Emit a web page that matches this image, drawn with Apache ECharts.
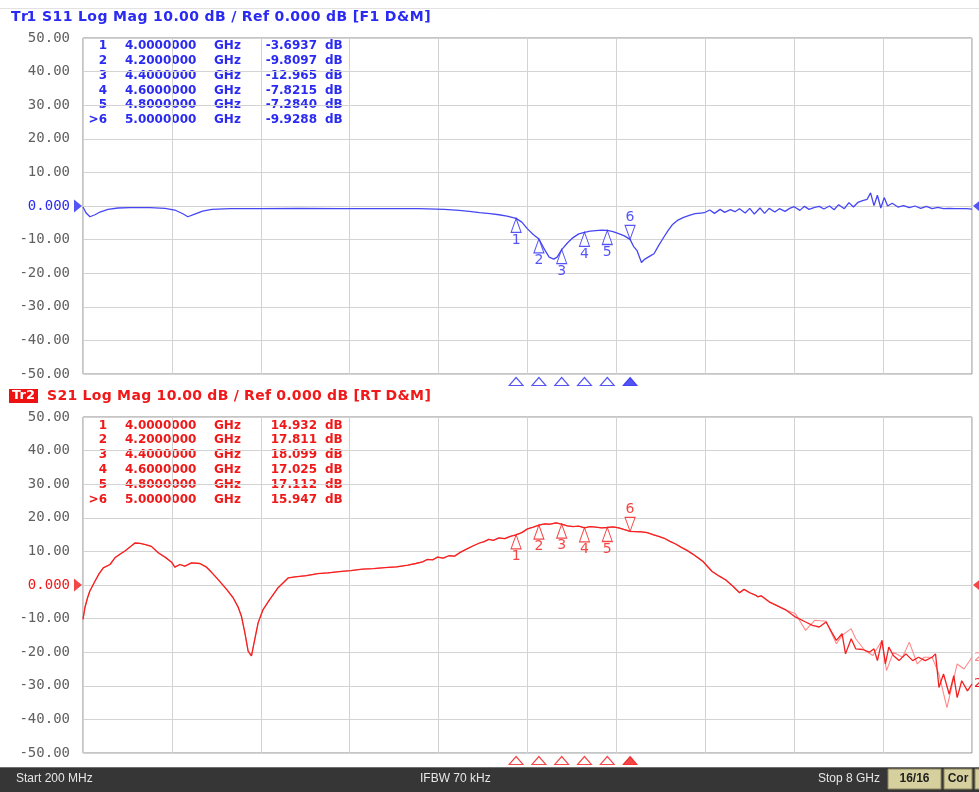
<!DOCTYPE html>
<html>
<head>
<meta charset="utf-8">
<script src="https://cdn.jsdelivr.net/npm/echarts/dist/echarts.min.js"></script>
<style>
  html, body { margin: 0; padding: 0; background: #fff; }
  #chart { width: 979px; height: 792px; }
</style>
</head>
<body>
<div id="chart"></div>
<script>
// ---- sweep & scale ----
const startGHz = 0.2;
const stopGHz = 8;
const dbMin = -50, dbMax = 50, dbStep = 10;

// ---- Tr1: S11 (dB) ----
const s11Freq = [0.2, 0.226, 0.261, 0.305, 0.349, 0.419, 0.507, 0.612, 0.787, 0.919, 1.006, 1.076, 1.12, 1.18, 1.25, 1.33, 1.49, 1.75, 2.1, 2.45, 2.8, 3.15, 3.37, 3.5, 3.59, 3.68, 3.77, 3.85, 3.92,
  4.0, 4.05, 4.1, 4.15, 4.2, 4.25, 4.29, 4.33, 4.36, 4.4, 4.45, 4.5, 4.55, 4.6, 4.65, 4.7, 4.75, 4.8, 4.85, 4.9, 4.95, 5.0,
  5.03, 5.06, 5.1, 5.13, 5.17, 5.21, 5.25, 5.29, 5.33, 5.37, 5.42, 5.47, 5.52, 5.57, 5.62,
  5.65, 5.7, 5.74, 5.79, 5.83, 5.88, 5.92, 5.96, 6.01, 6.05, 6.09, 6.14, 6.18, 6.22, 6.27, 6.31, 6.36, 6.4, 6.44, 6.49, 6.53, 6.57, 6.62, 6.66, 6.7, 6.75, 6.79, 6.83, 6.88, 6.92, 6.96,
  7.0, 7.04, 7.08, 7.11, 7.14, 7.17, 7.2, 7.23, 7.26, 7.3, 7.35, 7.4, 7.45, 7.5, 7.55, 7.6, 7.65, 7.7, 7.75, 7.8, 7.85, 7.9, 7.95, 8.0];
const s11Db = [-0.3, -2.0, -3.2, -2.6, -1.8, -1.0, -0.6, -0.5, -0.5, -0.7, -1.2, -2.3, -3.2, -2.4, -1.5, -1.0, -0.8, -0.8, -0.7, -0.8, -0.8, -0.8, -1.0, -1.3, -1.6, -2.0, -2.3, -2.6, -3.0,
  -3.6937, -4.8, -6.8, -8.5, -9.8097, -13.0, -15.2, -15.8, -15.2, -12.965, -11.0, -9.4, -8.3, -7.8215, -7.5, -7.3, -7.2, -7.284, -7.6, -8.2, -8.9, -9.9288,
  -12.0, -13.2, -16.8, -15.8, -15.0, -14.2, -11.8, -9.6, -7.5, -5.6, -4.2, -3.4, -2.8, -2.3, -2.1,
  -2.0, -1.2, -2.2, -1.0, -1.9, -1.1, -1.7, -0.8, -2.1, -0.7, -2.4, -0.6, -2.2, -0.7, -1.8, -0.8, -1.6, -0.7, -0.2, -1.3, -0.1, -1.0, -0.4, -0.1, -0.9, 0.0, -1.1, 0.4, -0.8, 1.0, -0.3,
  1.1, 1.6, 2.0, 3.9, 0.1, 3.2, -0.6, 2.5, 0.0, 0.8, -0.3, 0.1, -0.5, 0.0, -0.7, -0.1, -0.8, -0.4, -0.8, -0.7, -0.8, -0.8, -0.8, -0.9];

// ---- Tr2: S21 (dB) ----
const s21Freq = [0.2, 0.217, 0.24, 0.26, 0.305, 0.34, 0.378, 0.437, 0.48, 0.53, 0.568, 0.62, 0.656, 0.7, 0.75, 0.8, 0.86, 0.92, 0.977, 1.006, 1.05, 1.094, 1.153, 1.225, 1.284, 1.33, 1.386, 1.46, 1.517, 1.56, 1.59, 1.62, 1.649, 1.678, 1.707, 1.737, 1.78, 1.839, 1.912, 2.0, 2.058, 2.16, 2.262,
  2.35, 2.45, 2.55, 2.65, 2.75, 2.85, 2.95, 3.05, 3.12, 3.18, 3.22, 3.27, 3.31, 3.36, 3.41, 3.46, 3.51, 3.56, 3.62, 3.68, 3.72, 3.76, 3.8, 3.85, 3.9, 3.95,
  4.0, 4.05, 4.1, 4.15, 4.2, 4.25, 4.3, 4.35, 4.4, 4.45, 4.5, 4.55, 4.6, 4.65, 4.7, 4.75, 4.8, 4.85, 4.9, 4.95, 5.0,
  5.05, 5.1, 5.15, 5.2, 5.25, 5.3, 5.35, 5.4, 5.45, 5.5, 5.55, 5.6, 5.64, 5.68, 5.72, 5.78, 5.84, 5.9, 5.96, 6.0, 6.05, 6.1, 6.12, 6.15, 6.22, 6.28, 6.37,
  6.45, 6.54, 6.6, 6.66, 6.72, 6.76, 6.81, 6.86, 6.89, 6.94, 6.98, 7.04, 7.1, 7.14, 7.17, 7.21, 7.24, 7.27, 7.31, 7.36, 7.42, 7.48, 7.53, 7.59, 7.65, 7.68, 7.71, 7.75, 7.8, 7.84, 7.87, 7.91, 7.96, 8.0];
const s21Db = [-10.2, -6.7, -3.8, -1.8, 1.1, 3.3, 5.1, 6.1, 8.1, 9.3, 10.1, 11.5, 12.5, 12.4, 12.0, 11.5, 9.6, 8.3, 6.8, 5.3, 6.1, 5.6, 6.6, 6.4, 5.3, 3.7, 1.6, -1.3, -3.8, -6.5, -9.3, -14.2, -19.7, -21.1, -16.2, -11.2, -7.3, -4.3, -0.8, 2.1, 2.4, 2.8, 3.4,
  3.6, 4.0, 4.3, 4.7, 4.9, 5.2, 5.4, 5.9, 6.4, 6.9, 7.6, 7.5, 8.3, 8.0, 8.7, 8.6, 9.7, 10.6, 11.6, 12.5, 12.9, 13.6, 13.3, 14.0, 13.8, 14.5,
  14.932, 15.6, 16.7, 17.2, 17.811, 18.2, 18.1, 18.5, 18.099, 17.6, 17.4, 17.5, 17.025, 17.4, 17.2, 17.0, 17.112, 17.3, 17.0, 16.5, 15.947,
  15.9, 15.8, 15.6, 15.0, 14.5, 13.9, 13.0, 12.2, 11.2, 10.3, 9.2, 8.0, 7.0, 5.5, 4.0, 2.7, 1.5, -0.3, -2.3, -1.3, -2.3, -3.0, -3.5, -3.2, -5.0, -6.0, -7.5,
  -9.5, -11.0, -12.0, -12.5, -11.0, -13.5, -16.5, -14.5, -20.5, -16.0, -19.0, -19.2, -20.0, -19.0, -22.5, -16.5, -23.5, -18.5, -21.0, -22.5, -20.5, -22.5, -21.5, -22.5, -21.5, -20.5, -30.5, -26.5, -32.5, -27.0, -33.5, -28.5, -31.5, -29.5];

// memory trace of S21: identical up to memSplitGHz, then its own values
const memSplitGHz = 6.4;
const s21MemFreq = [6.45, 6.54, 6.62, 6.72, 6.81, 6.86, 6.94, 6.98, 7.06, 7.13, 7.21, 7.25, 7.31, 7.39, 7.45, 7.52, 7.58, 7.65, 7.71, 7.78, 7.87, 7.93, 8.0];
const s21MemDb = [-8.5, -13.5, -10.5, -10.8, -17.5, -15.0, -13.0, -16.0, -19.5, -21.0, -16.5, -25.5, -20.0, -21.5, -17.0, -23.5, -21.5, -21.5, -26.5, -36.5, -23.5, -25.0, -21.5];

// ---- markers ----
const markerFreq = [4.0, 4.2, 4.4, 4.6, 4.8, 5.0];
const s11MarkerDb = [-3.6937, -9.8097, -12.965, -7.8215, -7.2840, -9.9288];
const s21MarkerDb = [14.932, 17.811, 18.099, 17.025, 17.112, 15.947];
const activeMarker = 5;

// ---- texts ----
const header1 = 'Tr1 S11 Log Mag 10.00 dB / Ref 0.000 dB [F1 D&M]';
const header2Tag = 'Tr2';
const header2 = 'S21 Log Mag 10.00 dB / Ref 0.000 dB [RT D&M]';
const statusTexts = ['Start 200 MHz', 'IFBW 70 kHz', 'Stop 8 GHz'];
const statusBoxes = ['16/16', 'Cor'];

// ---- style ----
const FONT = 'DejaVu Sans';
const MONO = 'DejaVu Sans Mono';
const BLUE = '#2a2af2';
const BLUE_LINE = '#4646f5';
const RED = '#f01818';
const RED_LINE = '#f52020';
const PINK = '#ff8a8a';
const LABEL_GRAY = '#606060';
const GRID_LINE = '#d3d3d3';

const plots = [
  { top: 38, color: BLUE, line: BLUE_LINE },
  { top: 417, color: RED, line: RED_LINE }
];
const plotLeft = 83, plotWidth = 889, plotHeight = 336;

const pairs = (xs, ys) => xs.map((x, i) => [x, ys[i]]);
const s21Mem = pairs(s21Freq, s21Db).filter(p => p[0] <= memSplitGHz).concat(pairs(s21MemFreq, s21MemDb));

const grids = plots.map(p => ({
  left: plotLeft, top: p.top, width: plotWidth, height: plotHeight,
  show: true, backgroundColor: '#fff', borderColor: '#8a8a8a', borderWidth: 1
}));

const xAxes = [];
const yAxes = [];
plots.forEach((p, g) => {
  // frequency axis used by the traces
  xAxes.push({ type: 'value', gridIndex: g, min: startGHz, max: stopGHz, show: false });
  // ten horizontal divisions for the graticule
  xAxes.push({
    type: 'value', gridIndex: g, min: 0, max: 10, interval: 1, position: 'bottom',
    axisLine: { show: false }, axisTick: { show: false }, axisLabel: { show: false },
    splitLine: { show: true, lineStyle: { color: GRID_LINE, width: 1 } }
  });
  yAxes.push({
    type: 'value', gridIndex: g, min: dbMin, max: dbMax, interval: dbStep,
    axisLine: { show: false }, axisTick: { show: false },
    splitLine: { show: true, lineStyle: { color: GRID_LINE, width: 1 } },
    axisLabel: {
      margin: 13, fontFamily: MONO, fontSize: 14,
      formatter: v => (v === 0 ? '0.000' : v.toFixed(2)),
      color: v => (Number(v) === 0 ? p.color : LABEL_GRAY)
    }
  });
});

function traceSeries(g, data, color, extra) {
  return Object.assign({
    type: 'line', xAxisIndex: g * 2, yAxisIndex: g, data: data,
    showSymbol: false, symbol: 'none', smooth: false, animation: false,
    lineStyle: { color: color, width: 1.3 }, z: 3
  }, extra || {});
}

function markerSeries(g, values, color) {
  const up = [], down = [];
  markerFreq.forEach((f, i) => {
    const item = { value: [f, values[i]], name: String(i + 1) };
    (i === activeMarker ? down : up).push(item);
  });
  const labelBase = { show: true, color: color, fontFamily: FONT, fontSize: 14, formatter: d => d.name };
  return [
    {
      type: 'scatter', xAxisIndex: g * 2, yAxisIndex: g, data: up, clip: false, animation: false, z: 5,
      symbol: 'path://M5,0 L10,14 L0,14 Z', symbolSize: [10, 14], symbolOffset: [0, 7],
      itemStyle: { color: 'rgba(255,255,255,0.9)', borderColor: color, borderWidth: 1.1 },
      label: Object.assign({ position: 'bottom', distance: 0 }, labelBase)
    },
    {
      type: 'scatter', xAxisIndex: g * 2, yAxisIndex: g, data: down, clip: false, animation: false, z: 5,
      symbol: 'path://M0,0 L10,0 L5,14 Z', symbolSize: [10, 14], symbolOffset: [0, -7],
      itemStyle: { color: 'rgba(255,255,255,0.9)', borderColor: color, borderWidth: 1.1 },
      label: Object.assign({ position: 'top', distance: 0 }, labelBase)
    },
    // marker positions along the bottom edge of the plot
    {
      type: 'scatter', xAxisIndex: g * 2, yAxisIndex: g, clip: false, animation: false, z: 5,
      data: markerFreq.map((f, i) => ({
        value: [f, dbMin],
        itemStyle: i === activeMarker ? { color: color, borderColor: color } : { color: '#fff', borderColor: color, borderWidth: 1.1 }
      })),
      symbol: 'path://M7,0 L14,8 L0,8 Z', symbolSize: [14, 8], symbolOffset: [0, 7.5]
    },
    // reference level arrows on both edges
    {
      type: 'scatter', xAxisIndex: g * 2, yAxisIndex: g, clip: false, animation: false, z: 5,
      data: [
        { value: [startGHz, 0], symbol: 'path://M0,0 L8,6.5 L0,13 Z', symbolOffset: [-5, 0] },
        { value: [stopGHz, 0], symbol: 'path://M8,0 L0,6.5 L8,13 Z', symbolOffset: [5, 0] }
      ],
      symbolSize: [8, 13], itemStyle: { color: color }
    }
  ];
}

const series = [
  traceSeries(0, pairs(s11Freq, s11Db), BLUE_LINE),
  ...markerSeries(0, s11MarkerDb, BLUE),
  traceSeries(1, s21Mem, PINK, {
    z: 2, lineStyle: { color: PINK, width: 1.1 },
    endLabel: { show: true, formatter: '2', color: PINK, fontFamily: FONT, fontSize: 13, distance: 2 }
  }),
  traceSeries(1, pairs(s21Freq, s21Db), RED_LINE, {
    endLabel: { show: true, formatter: '2', color: RED, fontFamily: FONT, fontSize: 13, distance: 2 }
  }),
  ...markerSeries(1, s21MarkerDb, RED)
];

// ---- text layout helper ----
const measureCtx = document.createElement('canvas').getContext('2d');
// lays out a line character by character, tracking it out to the given width
function trackedLine(text, x0, width, y, font, fill) {
  measureCtx.font = font;
  const scale = width / measureCtx.measureText(text).width;
  const out = [];
  for (let i = 0; i < text.length; i++) {
    if (text[i] === ' ') continue;
    const x = x0 + measureCtx.measureText(text.slice(0, i)).width * scale;
    out.push({ type: 'text', x: x, y: y, style: { text: text[i], fill: fill, font: font, textVerticalAlign: 'middle' } });
  }
  return out;
}

// ---- marker tables, headers, status bar ----
const graphics = [];
const tableFont = 'bold 12px "' + FONT + '"';
function addTable(values, top, color) {
  markerFreq.forEach((f, i) => {
    const y = top + i * 14.8;
    const common = { fill: color, font: tableFont, textVerticalAlign: 'middle' };
    graphics.push({ type: 'text', x: 107, y: y, style: Object.assign({ text: (i === activeMarker ? '>' : '') + (i + 1), textAlign: 'right' }, common) });
    graphics.push({ type: 'text', x: 125, y: y, style: Object.assign({ text: f.toFixed(7), textAlign: 'left' }, common) });
    graphics.push({ type: 'text', x: 214, y: y, style: Object.assign({ text: 'GHz', textAlign: 'left' }, common) });
    graphics.push({ type: 'text', x: 317, y: y, style: Object.assign({ text: values[i].toPrecision(5), textAlign: 'right' }, common) });
    graphics.push({ type: 'text', x: 325, y: y, style: Object.assign({ text: 'dB', textAlign: 'left' }, common) });
  });
}
addTable(s11MarkerDb, 46, BLUE);
addTable(s21MarkerDb, 425.5, RED);

const headerFont = 'bold 14px "' + FONT + '"';
graphics.push({ type: 'line', shape: { x1: 0, y1: 8.5, x2: 979, y2: 8.5 }, style: { stroke: '#e2e2e2', lineWidth: 1 } });
graphics.push(...trackedLine(header1, 11, 420, 17, headerFont, BLUE));
graphics.push({ type: 'rect', shape: { x: 9, y: 389, width: 29, height: 14 }, style: { fill: '#ee1111' } });
graphics.push({ type: 'text', x: 23.5, y: 396, style: { text: header2Tag, fill: '#fff', font: 'bold 13px "' + FONT + '"', textAlign: 'center', textVerticalAlign: 'middle' } });
graphics.push(...trackedLine(header2, 47, 384, 396, headerFont, RED));

// status bar
graphics.push({ type: 'rect', shape: { x: 0, y: 767, width: 979, height: 25 }, style: { fill: '#363636' } });
graphics.push({ type: 'line', shape: { x1: 0, y1: 767.5, x2: 979, y2: 767.5 }, style: { stroke: '#707070', lineWidth: 1 } });
const statusFont = '12px "Liberation Sans"';
graphics.push({ type: 'text', x: 16, y: 779, style: { text: statusTexts[0], fill: '#e6e6e6', font: statusFont, textVerticalAlign: 'middle' } });
graphics.push({ type: 'text', x: 420, y: 779, style: { text: statusTexts[1], fill: '#e6e6e6', font: statusFont, textVerticalAlign: 'middle' } });
graphics.push({ type: 'text', x: 880, y: 779, style: { text: statusTexts[2], fill: '#e6e6e6', font: statusFont, textAlign: 'right', textVerticalAlign: 'middle' } });
graphics.push({ type: 'rect', shape: { x: 888, y: 769, width: 53, height: 20 }, style: { fill: '#d6cf9e', stroke: '#8c8560', lineWidth: 1 } });
graphics.push({ type: 'text', x: 914.5, y: 779, style: { text: statusBoxes[0], fill: '#1e1e1e', font: 'bold 12px "Liberation Sans"', textAlign: 'center', textVerticalAlign: 'middle' } });
graphics.push({ type: 'rect', shape: { x: 944, y: 769, width: 28, height: 20 }, style: { fill: '#d6cf9e', stroke: '#8c8560', lineWidth: 1 } });
graphics.push({ type: 'text', x: 958, y: 779, style: { text: statusBoxes[1], fill: '#1e1e1e', font: 'bold 12px "Liberation Sans"', textAlign: 'center', textVerticalAlign: 'middle' } });
graphics.push({ type: 'rect', shape: { x: 975, y: 769, width: 10, height: 20 }, style: { fill: '#d6cf9e', stroke: '#8c8560', lineWidth: 1 } });

const chart = echarts.init(document.getElementById('chart'), null, { renderer: 'canvas' });
chart.setOption({
  backgroundColor: '#ffffff',
  animation: false,
  textStyle: { fontFamily: FONT },
  grid: grids,
  xAxis: xAxes,
  yAxis: yAxes,
  series: series,
  graphic: { elements: graphics }
});
</script>
</body>
</html>
